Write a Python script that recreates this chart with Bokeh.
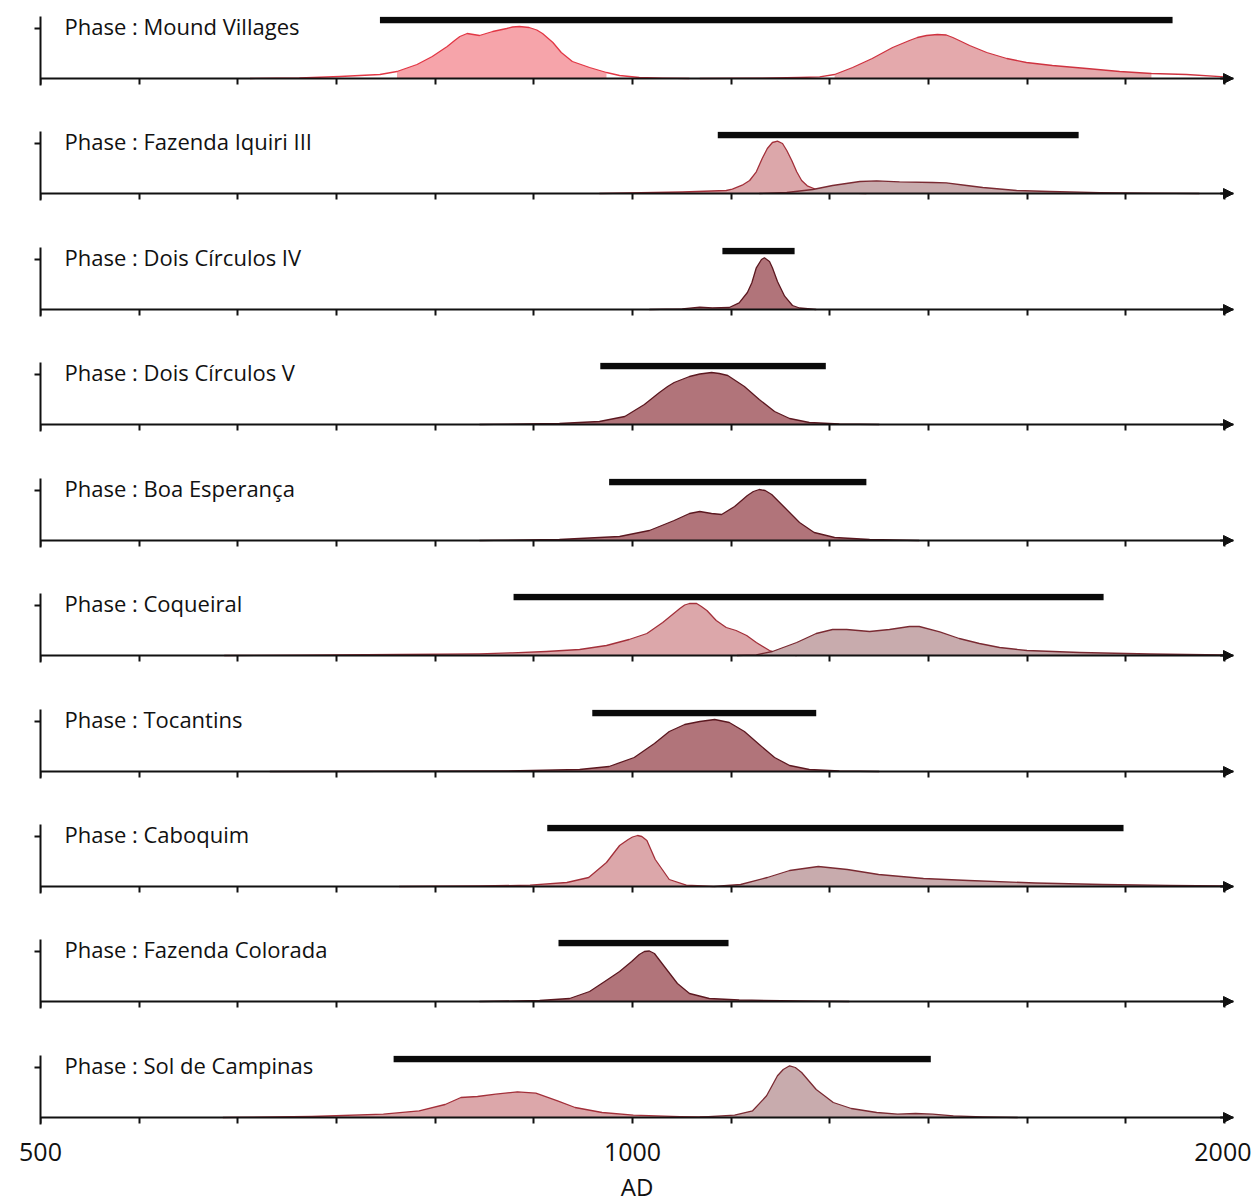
from bokeh.plotting import figure
from bokeh.models import Range1d, FixedTicker, Label, Arrow, NormalHead, LogAxis
from bokeh.layouts import column
from bokeh.embed import file_html
from bokeh.resources import INLINE

# ---------------- data ----------------
phases = ["Mound Villages", "Fazenda Iquiri III", "Dois Círculos IV", "Dois Círculos V",
          "Boa Esperança", "Coqueiral", "Tocantins", "Caboquim", "Fazenda Colorada",
          "Sol de Campinas"]

bar_start = [744, 1105, 1111, 963, 973, 870, 954, 905, 917, 756]
bar_end = [1882, 1686, 1209, 1254, 1315, 1736, 1240, 1777, 1119, 1418]

tick_values = [500, 1000, 2000]
tick_labels = ["500", "1000", "2000"]

# panel 1 : Mound Villages
mv1_year = [639, 677, 710, 744, 759, 777, 791, 805, 812, 817, 824, 836, 849, 863, 869, 876, 886, 894, 900, 911, 920, 932, 951, 970, 985, 1008, 1036, 1069]
mv1_dens = [0, 0.5, 2, 4, 7, 14, 22, 32, 38, 42, 45, 43, 47, 50, 51.5, 52, 51, 48.5, 45, 36, 26, 17, 11, 6, 3, 1, 0.3, 0]
mv2_year = [1082, 1160, 1216, 1245, 1267, 1294, 1324, 1356, 1383, 1396, 1411, 1429, 1444, 1455, 1466, 1484, 1514, 1550, 1586, 1635, 1702, 1769, 1836, 1913, 2000]
mv2_dens = [0, 0.3, 1, 1.7, 4, 11, 20, 31, 38, 41, 43, 44, 43.5, 41, 38, 33, 26, 20, 16, 13, 10, 7, 5, 4, 1.7]
# panel 2 : Fazenda Iquiri III
fi1_year = [962, 1060, 1116, 1124, 1137, 1147, 1156, 1164, 1171, 1178, 1185, 1192, 1198, 1205, 1212, 1219, 1227, 1240, 1264, 1315]
fi1_dens = [0, 1.5, 3, 4.3, 8.3, 13, 21.7, 35, 45, 51, 52.3, 50, 43, 33, 21.7, 13, 7.7, 4, 1, 0]
fi2_year = [1160, 1198, 1235, 1264, 1305, 1331, 1367, 1421, 1444, 1479, 1507, 1568, 1630, 1728, 1832, 1942]
fi2_dens = [0, 1, 4, 8, 12, 12.7, 11.7, 11, 10.7, 8, 6, 3, 2, 0.8, 0.3, 0]
# panel 3 : Dois Círculos IV
dc4_year = [1020, 1060, 1082, 1098, 1120, 1133, 1144, 1150, 1156, 1163, 1167, 1174, 1178, 1185, 1195, 1206, 1216, 1240]
dc4_dens = [0, 0.7, 2.3, 1.7, 2, 6.7, 17, 26.7, 41.7, 50, 51.7, 48, 41.7, 28, 13.3, 4, 1.5, 0]
# panel 4 : Dois Círculos V
dc5_year = [836, 918, 962, 991, 1014, 1032, 1042, 1050, 1069, 1082, 1097, 1107, 1118, 1140, 1160, 1181, 1202, 1230, 1274, 1335]
dc5_dens = [0, 1, 3, 8, 20, 32, 38, 42, 48, 50.5, 52, 51, 49, 38, 25, 13, 6, 2, 0.5, 0]
# panel 5 : Boa Esperança
be_year = [836, 918, 985, 1020, 1050, 1069, 1082, 1097, 1110, 1127, 1144, 1152, 1160, 1168, 1177, 1195, 1216, 1237, 1267, 1320, 1399]
be_dens = [0, 1, 4, 10, 20, 27, 29, 27, 26, 34, 45, 49, 51, 50, 46, 33, 18, 8, 3, 1, 0]
# panel 6 : Coqueiral
cq1_year = [620, 677, 761, 836, 869, 904, 940, 970, 996, 1017, 1036, 1057, 1063, 1069, 1078, 1084, 1091, 1103, 1116, 1129, 1143, 1156, 1174, 1188, 1212]
cq1_dens = [0, 0.3, 1, 1.7, 2.7, 4, 6, 10, 16, 22, 33, 47, 50.5, 52, 52, 49, 45, 35, 28, 25, 20, 13, 5, 1.7, 0]
cq2_year = [1130, 1156, 1178, 1212, 1240, 1264, 1285, 1320, 1351, 1383, 1399, 1433, 1466, 1501, 1537, 1587, 1688, 1832, 2000]
cq2_dens = [0, 0.7, 4, 13, 22, 26, 26, 24, 26, 29, 29, 23.6, 17, 12, 8, 5, 3, 1.5, 0.5]
# panel 7 : Tocantins
to_year = [654, 856, 940, 973, 1002, 1026, 1044, 1063, 1082, 1101, 1120, 1140, 1160, 1181, 1202, 1230, 1274, 1335]
to_dens = [0, 0.5, 2, 5, 14, 28, 40, 47, 50, 52, 49, 40, 27, 14, 6, 2, 0.5, 0]
# panel 8 : Caboquim
cb1_year = [761, 836, 887, 926, 950, 970, 985, 995, 1000, 1006, 1011, 1017, 1027, 1044, 1065, 1100]
cb1_dens = [0, 0.5, 1.3, 4, 9, 24, 41, 47, 49.5, 51, 50, 46, 27, 7, 1.3, 0]
cb2_year = [1100, 1135, 1171, 1202, 1243, 1286, 1334, 1406, 1482, 1603, 1734, 1875, 2000]
cb2_dens = [0, 2, 9, 16, 20, 17, 12, 8, 6, 3.5, 2, 1.2, 0.7]
# panel 9 : Fazenda Colorada
fc_year = [836, 897, 929, 951, 968, 985, 999, 1008, 1014, 1020, 1026, 1038, 1054, 1069, 1094, 1133, 1216, 1289]
fc_dens = [0, 1, 3, 10, 20, 30, 40, 47, 50, 50.5, 48, 35, 18, 8, 3, 1.5, 0.5, 0]
# panel 10 : Sol de Campinas
sc1_year = [619, 687, 747, 779, 803, 818, 834, 852, 874, 893, 916, 935, 965, 1001, 1057, 1107]
sc1_dens = [0, 1, 3.3, 6.7, 13, 20, 21, 23.3, 25.7, 24.3, 16.7, 10, 5, 2.3, 0.8, 0.3]
sc2_year = [1082, 1127, 1151, 1170, 1185, 1193, 1202, 1210, 1219, 1240, 1265, 1292, 1331, 1364, 1393, 1421, 1456, 1507, 1570]
sc2_dens = [0.3, 2.3, 6.7, 21.7, 41.7, 48, 51.7, 50, 45, 28, 15, 9, 5, 3.3, 4, 3.3, 1.7, 0.7, 0]

# (panel, years, density, filled-from, filled-to, style)
components = [
    (0, mv1_year, mv1_dens, 759, 970, "vivid"),
    (0, mv2_year, mv2_dens, 1267, 1836, "vivid2"),
    (1, fi1_year, fi1_dens, None, None, "mid"),
    (1, fi2_year, fi2_dens, None, None, "grey"),
    (2, dc4_year, dc4_dens, None, None, "dark"),
    (3, dc5_year, dc5_dens, None, None, "dark"),
    (4, be_year, be_dens, None, None, "dark"),
    (5, cq1_year, cq1_dens, None, None, "mid"),
    (5, cq2_year, cq2_dens, None, None, "grey"),
    (6, to_year, to_dens, None, None, "dark"),
    (7, cb1_year, cb1_dens, None, None, "mid"),
    (7, cb2_year, cb2_dens, None, None, "grey"),
    (8, fc_year, fc_dens, None, None, "dark"),
    (9, sc1_year, sc1_dens, None, None, "mid"),
    (9, sc2_year, sc2_dens, None, None, "grey"),
]

styles = {
    "vivid": ("#f6a4aa", "#e23745"),
    "vivid2": ("#e4a9ac", "#cf3340"),
    "mid": ("#dca7aa", "#a3303a"),
    "grey": ("#c8abad", "#7a2a32"),
    "dark": ("#b1747a", "#5c1820"),
}

# ---------------- layout ----------------
BAR_LEVEL = 58.5
INK = "#111111"
X_END = 2000 * 2 ** (9 / 592)          # room for the arrow head past 2000
border_bottoms = [30, 31, 30, 31, 30, 31, 30, 30, 31, 70]
minor_positions = [500 * 2 ** (k / 6) for k in range(13)]

figs = []
for i, name in enumerate(phases):
    last = i == len(phases) - 1
    p = figure(x_axis_type="log", x_range=Range1d(500, X_END), y_range=Range1d(-7, 62),
               frame_width=1193, frame_height=69,
               min_border_left=40, min_border_right=18, min_border_top=16,
               min_border_bottom=border_bottoms[i],
               output_backend="svg", toolbar_location=None)
    p.outline_line_color = None
    p.grid.visible = False
    p.background_fill_color = "white"
    p.border_fill_color = "white"

    xa = p.xaxis[0]
    xa.fixed_location = 0
    xa.ticker = FixedTicker(ticks=[], minor_ticks=minor_positions)
    xa.axis_line_width = 2
    xa.axis_line_color = INK
    xa.major_tick_line_color = None
    xa.minor_tick_in = 0
    xa.minor_tick_out = 6
    xa.minor_tick_line_width = 2
    xa.minor_tick_line_color = INK

    if last:
        lab = LogAxis(ticker=FixedTicker(ticks=tick_values, minor_ticks=[]),
                      major_label_overrides={v: t for v, t in zip(tick_values, tick_labels)})
        lab.axis_line_color = None
        lab.major_tick_line_color = None
        lab.minor_tick_line_color = None
        lab.major_tick_in = 0
        lab.major_tick_out = 0
        lab.major_label_standoff = 18
        lab.major_label_text_font = "Open Sans"
        lab.major_label_text_font_size = "25px"
        lab.major_label_text_color = INK
        lab.axis_label = "AD"
        lab.axis_label_text_font = "Open Sans"
        lab.axis_label_text_font_size = "24px"
        lab.axis_label_text_font_style = "normal"
        lab.axis_label_text_color = INK
        lab.axis_label_standoff = 6
        p.add_layout(lab, "below")

    ya = p.yaxis[0]
    ya.ticker = FixedTicker(ticks=[], minor_ticks=[50])
    ya.axis_line_width = 2
    ya.axis_line_color = INK
    ya.minor_tick_in = 0
    ya.minor_tick_out = 6
    ya.minor_tick_line_width = 2
    ya.minor_tick_line_color = INK
    ya.major_tick_line_color = None

    for (pi, yrs, dens, lo, hi, st) in components:
        if pi != i:
            continue
        fill, line = styles[st]
        if lo is None:
            fx, fy = yrs, dens
        else:
            sel = [k for k, yv in enumerate(yrs) if lo <= yv <= hi]
            fx = [yrs[k] for k in sel]
            fy = [dens[k] for k in sel]
        p.varea(x=fx, y1=[0] * len(fx), y2=fy, fill_color=fill)
        p.line(x=yrs, y=dens, line_color=line, line_width=1.3, line_join="round")

    p.segment(x0=[bar_start[i]], y0=[BAR_LEVEL], x1=[bar_end[i]], y1=[BAR_LEVEL],
              line_width=6.5, line_color="#0a0a0a")

    p.add_layout(Label(x=24, y=52.7, x_units="screen", y_units="data",
                       text="Phase : " + name, text_font="Open Sans",
                       text_font_size="22px", text_baseline="alphabetic",
                       text_color=INK))

    p.add_layout(Arrow(end=NormalHead(size=10, fill_color=INK, line_color=INK, line_width=1),
                       x_start=1990, y_start=0, x_end=X_END, y_end=0,
                       line_width=2, line_color=INK))
    figs.append(p)

layout = column(*figs, spacing=0)
open("out.html", "w").write(file_html(layout, INLINE))
